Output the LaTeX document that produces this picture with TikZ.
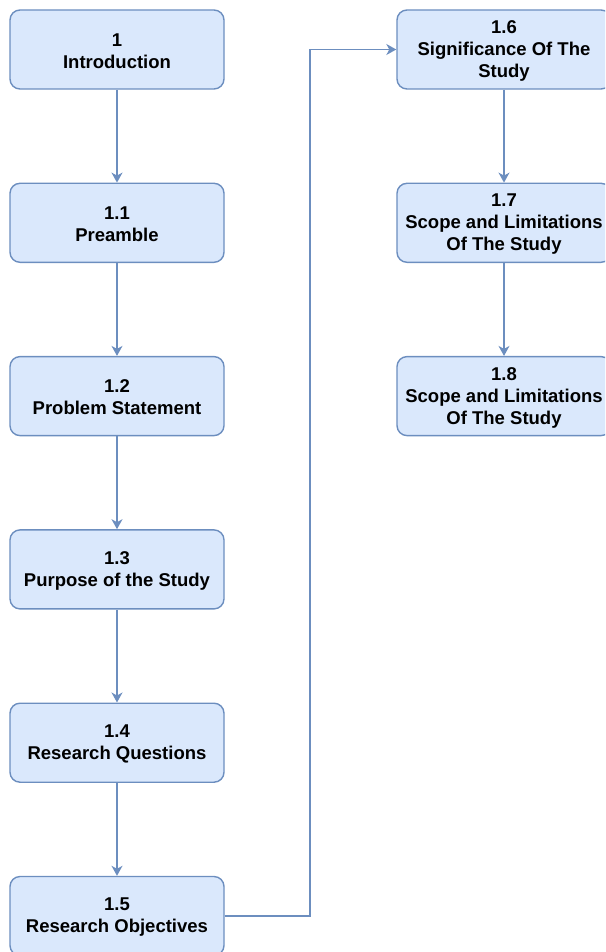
\documentclass[tikz,border=0pt]{standalone}
\usepackage{fontspec}
\setmainfont{Liberation Sans}
\usetikzlibrary{arrows.meta}
\definecolor{boxfill}{HTML}{DAE8FC}
\definecolor{boxline}{HTML}{6C8EBF}
\tikzset{
  chapbox/.style={draw=boxline, fill=boxfill, line width=1.4pt, rounded corners=10pt,
    minimum width=214pt, minimum height=79pt, inner sep=0pt},
  chaptext/.style={inner sep=0pt, align=center,
    font=\fontsize{18.5}{22}\selectfont\bfseries, text=black},
  flow/.style={draw=boxline, line width=1.4pt, -{Stealth[length=10pt,width=11pt,inset=3pt]}}
}
\begin{document}
\begin{tikzpicture}[x=1pt,y=-1pt]
  \useasboundingbox (0,0) rectangle (605,952);
  \clip (0,0) rectangle (605,952);
  % left column boxes
  \node[chapbox] (c10) at (117,49.5)  {};
  \node[chapbox] (c11) at (117,222.8) {};
  \node[chapbox] (c12) at (117,396.1) {};
  \node[chapbox] (c13) at (117,569.4) {};
  \node[chapbox] (c14) at (117,742.7) {};
  \node[chapbox] (c15) at (117,916)   {};
  % right column boxes
  \node[chapbox] (c16) at (504,49.5)  {};
  \node[chapbox] (c17) at (504,222.8) {};
  \node[chapbox] (c18) at (504,396.1) {};
  % section titles, set slightly below each box centre
  \node[chaptext] (t10) at ([yshift=-1.5pt]c10.center) {1\\Introduction};
  \node[chaptext] (t11) at ([yshift=-1.5pt]c11.center) {1.1\\Preamble};
  \node[chaptext] (t12) at ([yshift=-1.5pt]c12.center) {1.2\\Problem Statement};
  \node[chaptext] (t13) at ([yshift=-1.5pt]c13.center) {1.3\\Purpose of the Study};
  \node[chaptext] (t14) at ([yshift=-1.5pt]c14.center) {1.4\\Research Questions};
  \node[chaptext] (t15) at ([yshift=-1.5pt]c15.center) {1.5\\Research Objectives};
  \node[chaptext] (t16) at ([yshift=-1.5pt]c16.center) {1.6\\Significance Of The\\Study};
  \node[chaptext] (t17) at ([yshift=-1.5pt]c17.center) {1.7\\Scope and Limitations\\Of The Study};
  \node[chaptext] (t18) at ([yshift=-1.5pt]c18.center) {1.8\\Scope and Limitations\\Of The Study};
  % connectors
  \draw[flow] (c10) -- (c11);
  \draw[flow] (c11) -- (c12);
  \draw[flow] (c12) -- (c13);
  \draw[flow] (c13) -- (c14);
  \draw[flow] (c14) -- (c15);
  \draw[flow] (c15.east) -- (310,916) -- (310,49.5) -- (c16.west);
  \draw[flow] (c16) -- (c17);
  \draw[flow] (c17) -- (c18);
\end{tikzpicture}
\end{document}
